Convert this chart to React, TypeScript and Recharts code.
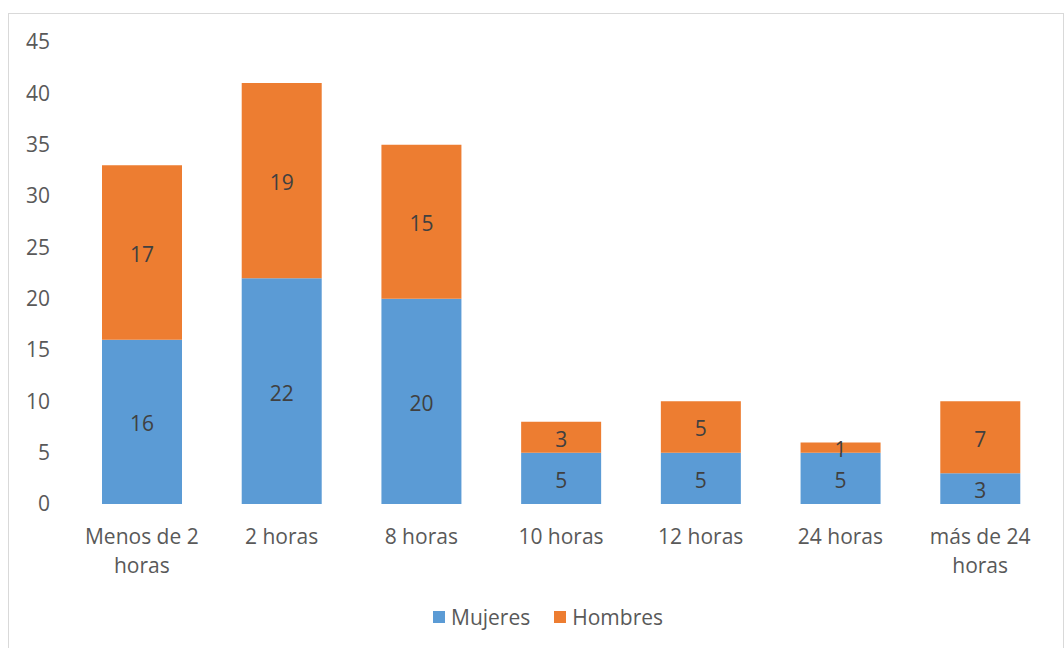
import React from "react";
import { BarChart, Bar, XAxis, YAxis, Legend, LabelList } from "recharts";

const categories = ["Menos de 2 horas", "2 horas", "8 horas", "10 horas", "12 horas", "24 horas", "más de 24 horas"];
const mujeres = [16, 22, 20, 5, 5, 5, 3];
const hombres = [17, 19, 15, 3, 5, 1, 7];
const yTicks = [0, 5, 10, 15, 20, 25, 30, 35, 40, 45];
const seriesOrder = ["Mujeres", "Hombres"];

const data = categories.map((c, i) => ({ name: c, Mujeres: mujeres[i], Hombres: hombres[i] }));

const FONT = "'Open Sans', sans-serif";
const AXIS_COLOR = "#595959";
const LABEL_COLOR = "#404040";

function splitLines(s: string, max: number): string[] {
  const words = s.split(" ");
  const lines: string[] = [];
  let cur = "";
  for (const w of words) {
    const next = cur ? cur + " " + w : w;
    if (next.length > max && cur) {
      lines.push(cur);
      cur = w;
    } else {
      cur = next;
    }
  }
  if (cur) lines.push(cur);
  return lines;
}

const XTick = (props: any) => {
  const { x, y, payload } = props;
  const lines = splitLines(String(payload.value), 10);
  return (
    <text x={x} y={y} textAnchor="middle" fill={AXIS_COLOR} fontSize={21} fontFamily={FONT}>
      {lines.map((l, i) => (
        <tspan key={i} x={x} y={y + 40 + i * 29}>
          {l}
        </tspan>
      ))}
    </text>
  );
};

const LegendContent = (props: any) => {
  const payload = [...(props.payload || [])].sort(
    (a: any, b: any) => seriesOrder.indexOf(a.value) - seriesOrder.indexOf(b.value)
  );
  return (
    <div style={{ display: "flex", alignItems: "center", marginLeft: 433, fontFamily: FONT, fontSize: 21, color: AXIS_COLOR }}>
      {payload.map((p: any, i: number) => (
        <div key={i} style={{ display: "flex", alignItems: "center", marginRight: 24 }}>
          <div style={{ width: 12, height: 12, background: p.color, marginRight: 6 }} />
          <span>{p.value}</span>
        </div>
      ))}
    </div>
  );
};

export default function App() {
  return (
    <div style={{ position: "fixed", left: 0, top: 0, width: 1064, height: 648, overflow: "hidden", background: "#fff" }}>
      <div
        style={{
          position: "absolute",
          left: 8,
          top: 13,
          width: 1056,
          height: 650,
          boxSizing: "border-box",
          border: "1px solid #d9d9d9",
        }}
      />
      <div style={{ position: "absolute", left: 0, top: 0 }}>
        <BarChart
          width={1064}
          height={648}
          data={data}
          margin={{ top: 42, right: 14, bottom: 86, left: 12 }}
          barSize={80}
          style={{ fontFamily: FONT }}
        >
          <XAxis
            dataKey="name"
            axisLine={false}
            tickLine={false}
            tickSize={0}
            tickMargin={0}
            interval={0}
            tick={<XTick />}
          />
          <YAxis
            width={60}
            domain={[0, 45]}
            ticks={yTicks}
            axisLine={false}
            tickLine={false}
            tickSize={0}
            tickMargin={22}
            tick={{ fill: AXIS_COLOR, fontSize: 21, fontFamily: FONT }}
          />
          <Legend
            verticalAlign="bottom"
            content={<LegendContent />}
            wrapperStyle={{ left: 0, top: 603, width: 1064 }}
          />
          <Bar dataKey="Mujeres" stackId="a" fill="#5B9BD5" isAnimationActive={false}>
            <LabelList dataKey="Mujeres" position="center" dy={2} fill={LABEL_COLOR} fontSize={21} fontFamily={FONT} />
          </Bar>
          <Bar dataKey="Hombres" stackId="a" fill="#ED7D31" isAnimationActive={false}>
            <LabelList dataKey="Hombres" position="center" dy={2} fill={LABEL_COLOR} fontSize={21} fontFamily={FONT} />
          </Bar>
        </BarChart>
      </div>
    </div>
  );
}
